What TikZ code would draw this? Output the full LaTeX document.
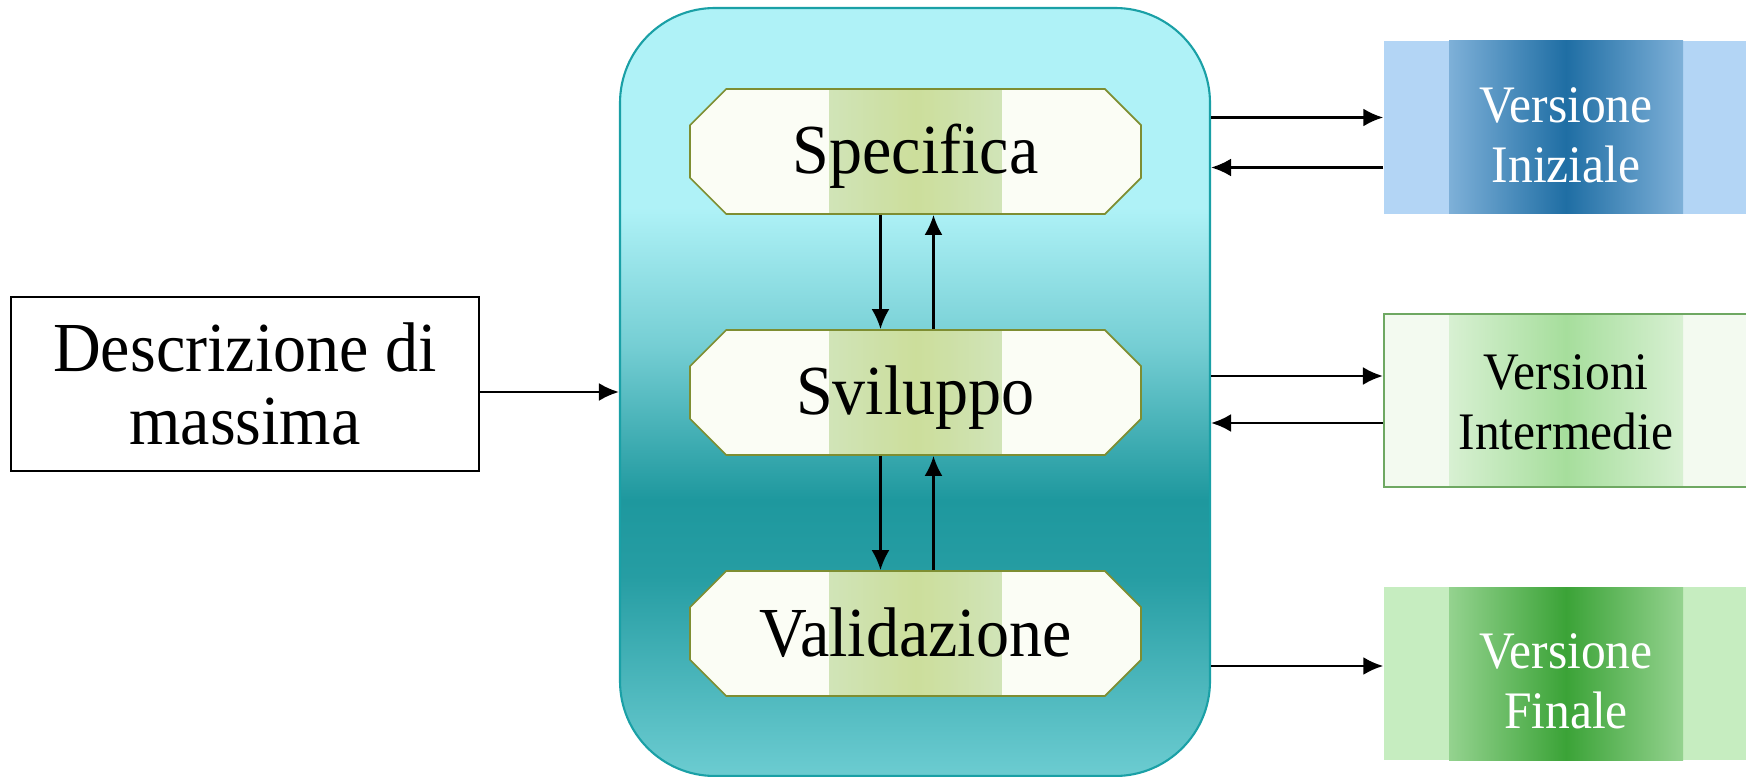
\documentclass[tikz,border=0pt]{standalone}
\usepackage{fontspec}
\setmainfont{Liberation Serif}[FakeStretch=0.94]
\usetikzlibrary{shapes.misc,arrows.meta}

\definecolor{procTop}{HTML}{AFF2F7}
\definecolor{procMid}{HTML}{1E989E}
\definecolor{procBot}{HTML}{6CCCD1}
\definecolor{procEdge}{HTML}{1AA0A6}
\definecolor{stepFill}{HTML}{FBFDF5}
\definecolor{stepEdge}{HTML}{7E8E32}
\definecolor{stepBand}{HTML}{C4D98C}
\definecolor{stepSide}{HTML}{D3ECE4}
\definecolor{iniBg}{HTML}{B3D5F5}
\definecolor{iniDark}{HTML}{1F6EA4}
\definecolor{midBg}{HTML}{F3FAF0}
\definecolor{midEdge}{HTML}{6EA862}
\definecolor{midBand}{HTML}{A6DE9C}
\definecolor{finBg}{HTML}{C6EDC0}
\definecolor{finDark}{HTML}{3BA337}

\pgfdeclareverticalshading{procshade}{100bp}{color(0bp)=(procBot); color(25bp)=(procBot); color(38bp)=(procMid!90!procBot); color(43bp)=(procMid); color(53bp)=(procTop!60!procMid); color(62bp)=(procTop); color(100bp)=(procTop)}

\tikzset{
  stepbox/.style={chamfered rectangle, chamfered rectangle xsep=0.28cm, draw=stepEdge, line width=0.5pt,
    fill=stepFill, minimum width=4.51cm, minimum height=1.25cm, inner sep=0pt, text height=4.8mm, text depth=0.3mm,
    font=\fontsize{20}{22}\selectfont,
    path picture={\shade[left color=stepSide, right color=stepSide, middle color=stepBand, fill opacity=0.85]
      ([xshift=-0.86cm]path picture bounding box.south) rectangle ([xshift=0.86cm]path picture bounding box.north);}},
  verbox/.style={rectangle, minimum width=3.64cm, minimum height=1.73cm, inner sep=0pt},
  vertext/.style={align=center, inner sep=0pt, font=\fontsize{15}{17}\selectfont},
  band/.style 2 args={path picture={\shade[left color=#1, right color=#1, middle color=#2]
      ([xshift=-1.17cm]path picture bounding box.south) rectangle ([xshift=1.17cm]path picture bounding box.north);}},
  link/.style={line width=0.75pt, -{Latex[length=2mm,width=1.8mm]}}
}

\begin{document}
\begin{tikzpicture}
\useasboundingbox (0,0) rectangle (17.46,7.76);
\node[draw=procEdge, line width=0.6pt, rounded corners=0.95cm, shade, shading=procshade,
  minimum width=5.9cm, minimum height=7.68cm, inner sep=0pt] (proc) at (9.15,3.84) {};
\node[stepbox] (spec) at (9.155,6.245) {Specifica};
\node[stepbox] (svil) at (9.155,3.835) {Sviluppo};
\node[stepbox] (valid) at (9.155,1.425) {Validazione};
\node[draw, line width=0.7pt, minimum width=4.68cm, minimum height=1.74cm, align=center,
  font=\fontsize{20}{21}\selectfont] (desc) at (2.45,3.92) {Descrizione di\\massima};
\node[verbox, fill=iniBg, band={iniBg}{iniDark}] (ini) at (15.66,6.485) {};
\node[vertext, text=white] (iniTxt) at ([yshift=-0.08cm]ini.center) {Versione\\Iniziale};
\node[verbox, fill=midBg, draw=midEdge, line width=0.6pt, band={midBg}{midBand}] (inter) at (15.66,3.755) {};
\node[vertext] (interTxt) at ([yshift=-0.02cm]inter.center) {Versioni\\Intermedie};
\node[verbox, fill=finBg, band={finBg}{finDark}] (fin) at (15.66,1.025) {};
\node[vertext, text=white] (finTxt) at ([yshift=-0.08cm]fin.center) {Versione\\Finale};

\draw[link] ([yshift=-0.08cm]desc.east) -- ([yshift=-0.08cm]desc.east -| proc.west);
\draw[link] ([xshift=-0.35cm]spec.south) -- ([xshift=-0.35cm]svil.north);
\draw[link] ([xshift=0.18cm]svil.north) -- ([xshift=0.18cm]spec.south);
\draw[link] ([xshift=-0.35cm]svil.south) -- ([xshift=-0.35cm]valid.north);
\draw[link] ([xshift=0.18cm]valid.north) -- ([xshift=0.18cm]svil.south);
\draw[link] ([yshift=0.1cm]ini.west -| proc.east) -- ([yshift=0.1cm]ini.west);
\draw[link] ([yshift=-0.4cm]ini.west) -- ([yshift=-0.4cm]ini.west -| proc.east);
\draw[link] ([yshift=0.245cm]inter.west -| proc.east) -- ([yshift=0.245cm]inter.west);
\draw[link] ([yshift=-0.225cm]inter.west) -- ([yshift=-0.225cm]inter.west -| proc.east);
\draw[link] ([yshift=0.075cm]fin.west -| proc.east) -- ([yshift=0.075cm]fin.west);
\end{tikzpicture}
\end{document}
